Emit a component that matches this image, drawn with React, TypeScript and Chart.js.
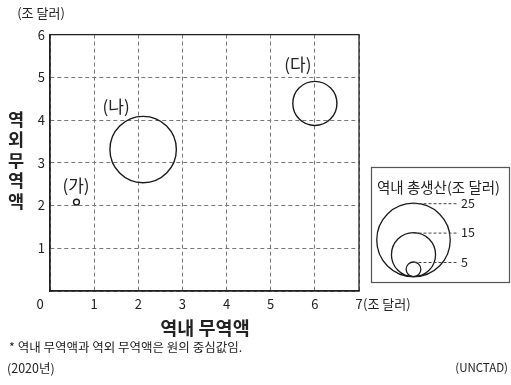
import React, { useEffect, useRef } from "react";
import { Chart, registerables } from "chart.js";

Chart.register(...registerables);

// ---- data ----
const regionLabels = ["(가)", "(나)", "(다)"];
const intraTrade = [0.6, 2.11, 6.0]; // 역내 무역액 (조 달러)
const extraTrade = [2.08, 3.31, 4.39]; // 역외 무역액 (조 달러)
const regionalGdp = [2.0, 22.6, 15.0]; // 역내 총생산 (조 달러)
const legendValues = [25, 15, 5];
const xTicks = [0, 1, 2, 3, 4, 5, 6, 7];
const yTicks = [0, 1, 2, 3, 4, 5, 6];

// ---- style ----
const PX_PER_GDP = 1.47;
const labelOffsets = [
  [-0.5, -17],
  [-27, -43],
  [-17, -38.5],
];
const FONT = "'Noto Sans CJK KR', 'Noto Sans', sans-serif";
const INK = "#222";

export default function App() {
  const ref = useRef<HTMLCanvasElement | null>(null);

  useEffect(() => {
    if (!ref.current) return;
    const overlay = {
      id: "overlay",
      afterDraw(chart: any) {
        const ctx = chart.ctx as CanvasRenderingContext2D;
        const ca = chart.chartArea;
        const xs = chart.scales.x;
        ctx.save();
        // solid frame
        ctx.strokeStyle = INK;
        ctx.lineWidth = 1.3;
        ctx.setLineDash([]);
        ctx.strokeRect(ca.left, ca.top, ca.right - ca.left, ca.bottom - ca.top);

        ctx.fillStyle = INK;
        ctx.textBaseline = "middle";
        // origin 0
        ctx.font = `13px ${FONT}`;
        ctx.textAlign = "center";
        ctx.fillText(String(xTicks[0]), ca.left - 10, 304);
        // x unit
        ctx.textAlign = "left";
        ctx.fillText("(조 달러)", xs.getPixelForValue(xTicks[xTicks.length - 1]) + 4, 304);
        // y unit
        ctx.textAlign = "center";
        ctx.fillText("(조 달러)", 41, 13);

        // axis titles
        ctx.font = `bold 18.5px ${FONT}`;
        ctx.fillText("역내 무역액", 205, 328);
        const yTitle = ["역", "외", "무", "역", "액"];
        ctx.font = `bold 17.5px ${FONT}`;
        yTitle.forEach((c, i) => ctx.fillText(c, 16, 119 + i * 20.5));

        // bubble labels
        ctx.font = `17px ${FONT}`;
        const meta = chart.getDatasetMeta(0);
        meta.data.forEach((el: any, i: number) => {
          ctx.fillText(regionLabels[i], el.x + labelOffsets[i][0], el.y + labelOffsets[i][1]);
        });

        // legend box
        ctx.strokeStyle = "#555";
        ctx.lineWidth = 1.2;
        ctx.strokeRect(371.5, 167.5, 138, 115);
        ctx.font = `14.5px ${FONT}`;
        ctx.textAlign = "left";
        ctx.fillText("역내 총생산(조 달러)", 377, 187);
        const cx = 413.5;
        const bottom = 276.7;
        legendValues.forEach((v) => {
          const r = v * PX_PER_GDP;
          ctx.strokeStyle = "#1a1a1a";
          ctx.lineWidth = 1.3;
          ctx.setLineDash([]);
          ctx.beginPath();
          ctx.arc(cx, bottom - r, r, 0, Math.PI * 2);
          ctx.stroke();
          const ty = bottom - 2 * r;
          ctx.strokeStyle = "#444";
          ctx.lineWidth = 1;
          ctx.setLineDash([3, 2]);
          ctx.beginPath();
          ctx.moveTo(cx, ty + 0.5);
          ctx.lineTo(457, ty + 0.5);
          ctx.stroke();
          ctx.setLineDash([]);
          ctx.font = `12.5px ${FONT}`;
          ctx.fillStyle = INK;
          ctx.fillText(String(v), 461, ty);
        });

        // footnotes
        ctx.font = `12.5px ${FONT}`;
        ctx.textAlign = "left";
        ctx.fillText("* 역내 무역액과 역외 무역액은 원의 중심값임.", 9, 347);
        ctx.fillText("(2020년)", 7, 368);
        ctx.font = `11.5px ${FONT}`;
        ctx.textAlign = "right";
        ctx.fillText("(UNCTAD)", 508, 368);
        ctx.restore();
      },
    };

    const chart = new Chart(ref.current, {
      type: "bubble",
      data: {
        datasets: [
          {
            data: intraTrade.map((x, i) => ({
              x,
              y: extraTrade[i],
              r: regionalGdp[i] * PX_PER_GDP,
            })),
            backgroundColor: "rgba(0,0,0,0)",
            borderColor: "#1a1a1a",
            borderWidth: 1.4,
            hoverBorderWidth: 1.4,
          },
        ],
      },
      options: {
        responsive: false,
        animation: false,
        devicePixelRatio: 1,
        layout: { padding: { top: 31, right: 152, left: 0, bottom: 0 } },
        plugins: { legend: { display: false }, tooltip: { enabled: false } },
        scales: {
          x: {
            type: "linear",
            min: xTicks[0],
            max: xTicks[xTicks.length - 1],
            afterBuildTicks: (s: any) => {
              s.ticks = xTicks.map((v) => ({ value: v }));
            },
            afterFit: (s: any) => {
              s.height = 94;
            },
            ticks: {
              stepSize: 1,
              padding: 5,
              color: INK,
              font: { size: 13, family: FONT },
              callback: (v: any) => (v === 0 ? "" : String(v)),
            },
            grid: { color: "#777", lineWidth: 1, drawTicks: false },
            border: { display: true, color: INK, width: 1.3, dash: [4, 3] },
          },
          y: {
            type: "linear",
            min: yTicks[0],
            max: yTicks[yTicks.length - 1],
            afterBuildTicks: (s: any) => {
              s.ticks = yTicks.map((v) => ({ value: v }));
            },
            afterFit: (s: any) => {
              s.width = 50;
            },
            ticks: {
              stepSize: 1,
              padding: 5,
              color: INK,
              font: { size: 13, family: FONT },
              callback: (v: any) => (v === 0 ? "" : String(v)),
            },
            grid: { color: "#777", lineWidth: 1, drawTicks: false },
            border: { display: true, color: INK, width: 1.3, dash: [4, 3] },
          },
        },
      },
      plugins: [overlay],
    } as any);
    return () => chart.destroy();
  }, []);

  return (
    <div style={{ position: "absolute", left: 0, top: 0, width: 511, height: 385, background: "#fff" }}>
      <canvas ref={ref} width={511} height={385} style={{ width: 511, height: 385, display: "block" }} />
    </div>
  );
}
